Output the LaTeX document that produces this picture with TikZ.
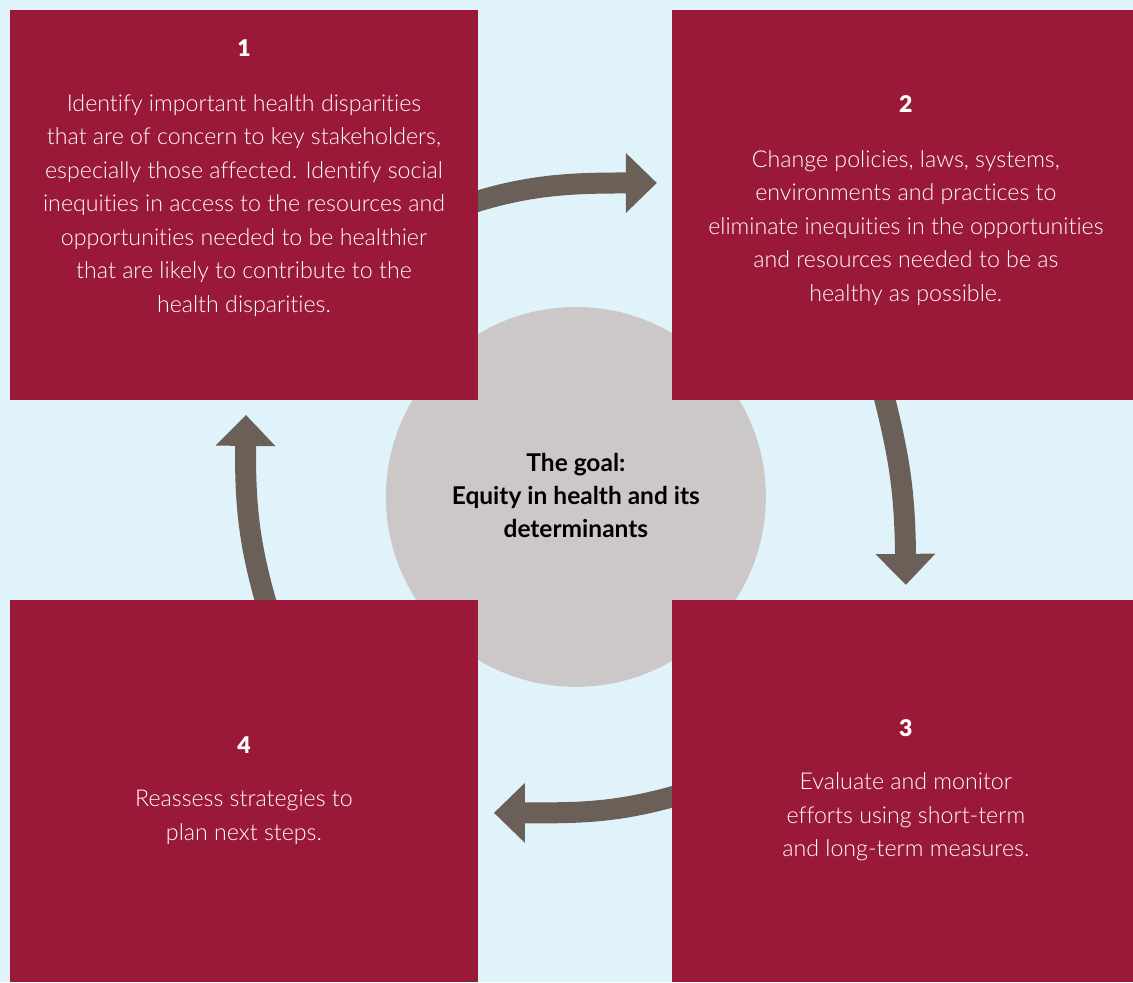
\documentclass[tikz,border=0pt]{standalone}
\usepackage{fontspec}
\setmainfont{Lato}[Ligatures=NoCommon]
\newfontfamily\lightfont{Lato Light}[Ligatures=NoCommon]
\newfontfamily\heavyfont{Lato Black}
\usetikzlibrary{arrows.meta,calc}

\definecolor{bgblue}{RGB}{225,243,250}
\definecolor{boxred}{RGB}{155,25,56}
\definecolor{goalgray}{RGB}{204,200,199}
\definecolor{arrowgray}{RGB}{107,96,88}

\pgfdeclarelayer{back}
\pgfdeclarelayer{mid}
\pgfsetlayers{back,mid,main}

\tikzset{
  stepbox/.style={fill=boxred, draw=none, inner sep=0pt, anchor=north west},
  numtext/.style={text=white, inner sep=0pt, font=\heavyfont\fontsize{23}{27}\selectfont},
  bodytext/.style={text=white, align=center, inner sep=0pt, anchor=north, font=\lightfont\fontsize{23.2}{33.5}\selectfont},
  goaltext/.style={text=black, align=center, inner sep=0pt, anchor=north, font=\fontsize{24.5}{33}\selectfont\bfseries},
  cyclearrow/.style={draw=arrowgray, line width=21pt, -{Triangle[width=58pt,length=31pt]}}
}

\begin{document}
\begin{tikzpicture}[x=1pt,y=1pt,yscale=-1]

\begin{pgfonlayer}{back}
%Background
\path[fill=bgblue] (0,0) rectangle (1133,982);
%Goal circle
\path[fill=goalgray] (576,497) circle (190);
\end{pgfonlayer}

%Step boxes
\node[stepbox, minimum width=468pt, minimum height=390pt] (box1) at (10,10) {};
\node[stepbox, minimum width=461pt, minimum height=390pt] (box2) at (672,10) {};
\node[stepbox, minimum width=461pt, minimum height=382pt] (box3) at (672,600) {};
\node[stepbox, minimum width=468pt, minimum height=382pt] (box4) at (10,600) {};

% Step 1
\node[numtext] (num1) at (244,48) {1};
\node[bodytext] (text1) at (244,94) {Identify important health disparities\\
 that are of concern to key stakeholders,\\
 especially those affected. Identify social\\
 inequities in access to the resources and\\
 opportunities needed to be healthier\\
 that are likely to contribute to the\\
 health disparities.};
% Step 2
\node[numtext] (num2) at (906,104) {2};
\node[bodytext] (text2) at (906,150) {Change policies, laws, systems,\\
 environments and practices to\\
 eliminate inequities in the opportunities\\
 and resources needed to be as\\
 healthy as possible.};
% Step 3
\node[numtext] (num3) at (906,728) {3};
\node[bodytext] (text3) at (906,773) {Evaluate and monitor\\
 efforts using short-term\\
 and long-term measures.};
% Step 4
\node[numtext] (num4) at (244,745) {4};
\node[bodytext] (text4) at (244,790) {Reassess strategies to\\
 plan next steps.};

% Goal
\node[goaltext] (goal) at (576,453) {The goal:\\
 Equity in health and its\\
 determinants};

%Cycle arrows
\coordinate (tip1) at (657,183);
\coordinate (tip2) at (906,585);
\coordinate (tip3) at (494,813);
\coordinate (tip4) at (246,415);
\begin{pgfonlayer}{mid}
\draw[cyclearrow] ($(box1.east)+(-10,-1)$) .. controls (530,184) and (575,183) .. (tip1);
\draw[cyclearrow] ($(box2.south)+(-20,-10)$) .. controls (899,455) and (905,490) .. (tip2);
\draw[cyclearrow] ($(box3.west)+(10,3)$) .. controls (615,814) and (575,813) .. (tip3);
\draw[cyclearrow] ($(box4.north)+(24,10)$) .. controls (249,545) and (245,505) .. (tip4);
\end{pgfonlayer}

\end{tikzpicture}
\end{document}
